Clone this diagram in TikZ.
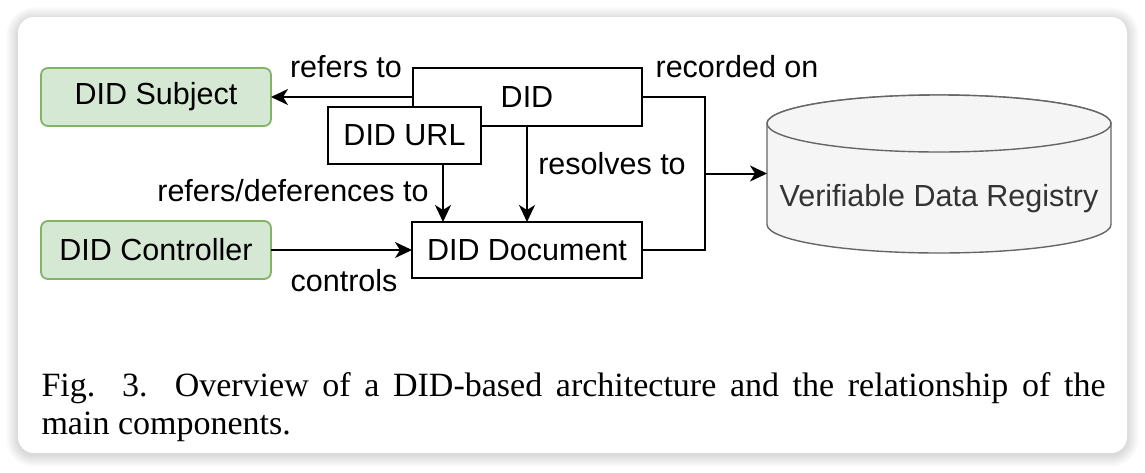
\documentclass[tikz,border=0pt]{standalone}
\usepackage{fontspec}
\setmainfont{Liberation Serif}
\newfontfamily\diagfont{Liberation Sans}
\usetikzlibrary{arrows.meta,calc}
\definecolor{subjfill}{HTML}{D5E8D4}
\definecolor{subjdraw}{HTML}{82B366}
\definecolor{cylfill}{HTML}{F5F5F5}
\definecolor{cyldraw}{HTML}{666666}
\definecolor{cyltext}{HTML}{333333}
\begin{document}
\begin{tikzpicture}[x=1pt,y=-1pt,
  every node/.style={font=\diagfont\fontsize{30.5}{36}\selectfont, inner sep=0pt, outer sep=0pt},
  greenbox/.style={draw=subjdraw, fill=subjfill, line width=1.8pt, rounded corners=7pt, minimum width=230pt, minimum height=58pt},
  plainbox/.style={draw=black, fill=white, line width=2pt},
  conn/.style={line width=2pt, draw=black},
  arr/.style={conn, -{Stealth[length=17pt,width=16pt,inset=5pt]}},
  lbl/.style={anchor=base},
  captext/.style={anchor=base west, font=\rmfamily\fontsize{34}{40}\selectfont}
]
\useasboundingbox (0,0) rectangle (1145,472);
\fill[white] (0,0) rectangle (1145,472);
% soft shadow
\foreach \i in {1,...,12}{
  \fill[black, opacity=0.012, rounded corners={16pt+\i pt}] ({18-\i},{17-\i+2}) rectangle ({1127+\i},{453+\i+2});
}
\fill[white, rounded corners=16pt] (18,17) rectangle (1127,453);

% cylinder
\node[minimum width=344pt, minimum height=101pt] (vdr) at (939,174) {};
\path[fill=cylfill, draw=cyldraw, line width=1.4pt]
  (vdr.north west) -- (vdr.south west)
  arc[start angle=180, end angle=0, x radius=172, y radius=28.5]
  -- (vdr.north east)
  arc[start angle=0, end angle=-180, x radius=172, y radius=28.5] -- cycle;
\draw[fill=cylfill, draw=cyldraw, line width=1.4pt] (vdr.north) ellipse[x radius=172, y radius=28.5];
\node[text=cyltext] (vdrtext) at (939,199) {Verifiable Data Registry};

% boxes
\node[greenbox] (subj) at (156,97) {DID Subject};
\node[greenbox] (ctrl) at (156,250) {DID Controller};
\node[plainbox, minimum width=229pt, minimum height=58pt] (did) at (527,97) {DID};
\node[plainbox, minimum width=153pt, minimum height=57pt] (url) at (404.5,135.5) {DID URL};
\node[plainbox, minimum width=230pt, minimum height=56pt] (doc) at (527,250) {DID Document};

% connectors
\coordinate (ux) at (443,0);
\coordinate (j) at (705,173.5);
\draw[arr] (did.west) -- (subj.east);
\draw[conn] (did.east) -| (j) |- (doc.east);
\draw[arr] (j) -- (j -| vdr.west);
\draw[arr] (url.south -| ux) -- (doc.north -| ux);
\draw[arr] (did.south) -- (doc.north);
\draw[arr] (ctrl.east) -- (doc.west);

% labels
\node[lbl] (l1) at (346,77) {refers to};
\node[lbl] (l2) at (737,77) {recorded on};
\node[lbl] (l3) at (612,174) {resolves to};
\node[lbl] (l4) at (293,201.5) {refers/deferences to};
\node[lbl] (l5) at (344,291.5) {controls};

% caption
\node[captext] (cap1) at (41.5,396) {\makebox[1064pt][s]{Fig. 3.\ \ Overview of a DID-based architecture and the relationship of the}};
\node[captext] (cap2) at (41.5,434.5) {main components.};
\end{tikzpicture}
\end{document}
